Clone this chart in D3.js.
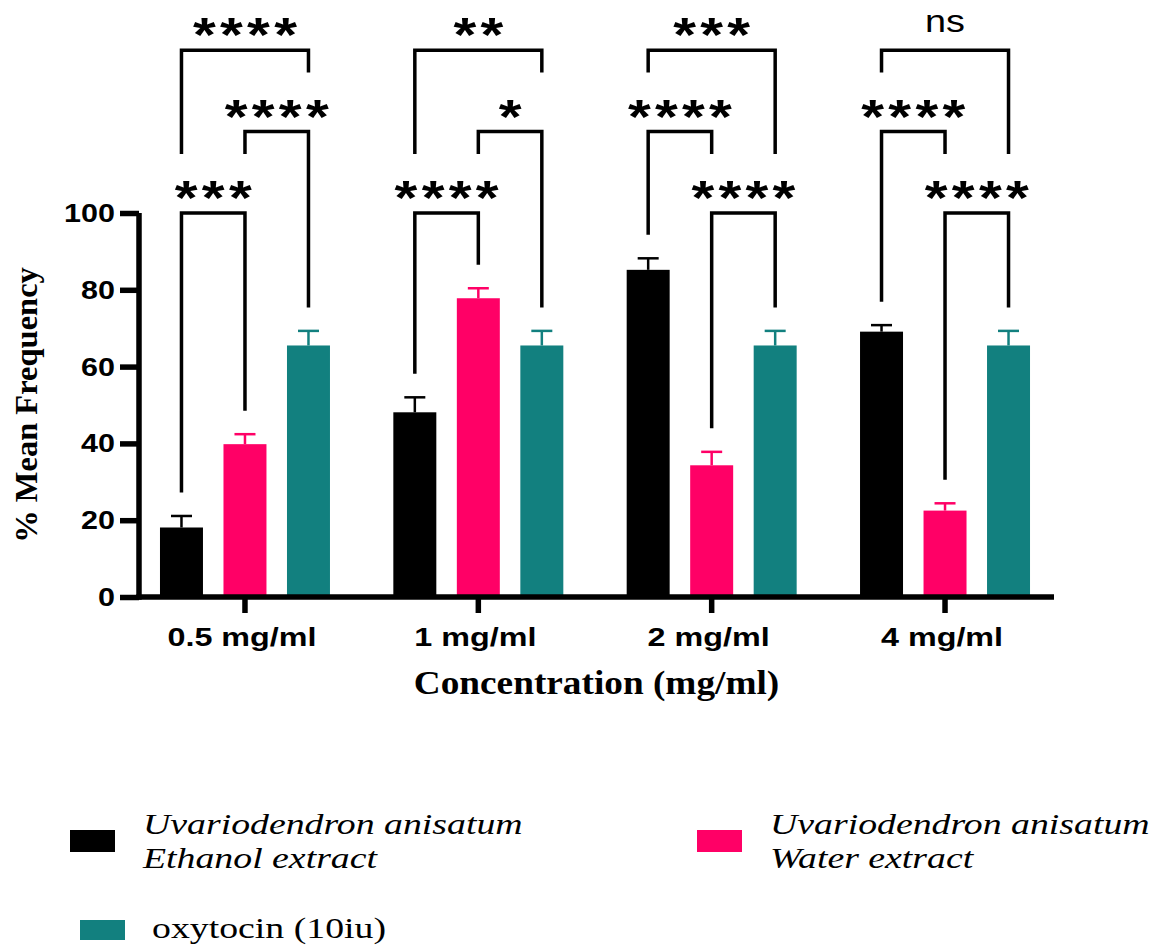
<!DOCTYPE html>
<html>
<head>
<meta charset="utf-8">
<script src="https://cdn.jsdelivr.net/npm/d3@7"></script>
<style>
  body { margin: 0; background: #fff; }
</style>
</head>
<body>
<div id="chart"></div>
<script>
// ---- data ----
const concentrations = ["0.5 mg/ml", "1 mg/ml", "2 mg/ml", "4 mg/ml"];
const seriesKeys = ["ethanol", "water", "oxytocin"];
const ethanolMean = [18.1, 48.1, 85.2, 69.1];
const ethanolSem  = [3.0, 3.9, 3.0, 1.7];
const waterMean   = [39.8, 77.8, 34.3, 22.5];
const waterSem    = [2.6, 2.6, 3.5, 1.9];
const oxytocinMean = [65.5, 65.5, 65.5, 65.5];
const oxytocinSem  = [3.8, 3.8, 3.8, 3.8];
const yTicks = [0, 20, 40, 60, 80, 100];

// [concentration index, series a, series b, stack level, label]
const comparisons = [
  [0, "ethanol", "water", 0, "***"],
  [0, "water", "oxytocin", 1, "****"],
  [0, "ethanol", "oxytocin", 2, "****"],
  [1, "ethanol", "water", 0, "****"],
  [1, "water", "oxytocin", 1, "*"],
  [1, "ethanol", "oxytocin", 2, "**"],
  [2, "water", "oxytocin", 0, "****"],
  [2, "ethanol", "water", 1, "****"],
  [2, "ethanol", "oxytocin", 2, "***"],
  [3, "water", "oxytocin", 0, "****"],
  [3, "ethanol", "water", 1, "****"],
  [3, "ethanol", "oxytocin", 2, "ns"]
];

const legendLabels = [
  ["Uvariodendron anisatum", "Ethanol extract"],
  ["Uvariodendron anisatum", "Water extract"],
  ["oxytocin (10iu)"]
];

const colors = { ethanol: "#000000", water: "#FF0066", oxytocin: "#12807F" };

// table built from the arrays
const means = { ethanol: ethanolMean, water: waterMean, oxytocin: oxytocinMean };
const sems  = { ethanol: ethanolSem,  water: waterSem,  oxytocin: oxytocinSem };
const bars = [];
concentrations.forEach((c, i) => {
  seriesKeys.forEach(k => bars.push({ conc: c, key: k, mean: means[k][i], sem: sems[k][i] }));
});

// ---- layout ----
const W = 1164, H = 947;
const axisX = 139, axisRight = 1054;
const STRETCH = 1.22; // the figure's text is a bit wide

const svg = d3.select("#chart").append("svg")
  .attr("width", W).attr("height", H)
  .style("font-family", "'Liberation Sans', Arial, sans-serif");

const y = d3.scaleLinear().domain([0, 100]).range([597, 213]);

const x0 = d3.scaleBand().domain(concentrations).range([128.3, 1061.7]);
const x1 = d3.scaleBand().domain(seriesKeys)
  .range([x0.bandwidth() / 2 - 95.25, x0.bandwidth() / 2 + 95.25])
  .paddingInner(0.323).paddingOuter(0.1615);

const barCenter = (ci, k) => x0(concentrations[ci]) + x1(k) + x1.bandwidth() / 2;

// bars
svg.append("g").selectAll("rect")
  .data(bars)
  .join("rect")
  .attr("x", d => x0(d.conc) + x1(d.key))
  .attr("width", x1.bandwidth())
  .attr("y", d => y(d.mean))
  .attr("height", d => y(0) - y(d.mean))
  .attr("fill", d => colors[d.key]);

// error bars (upper only)
const capHalf = 10.5;
const err = svg.append("g").selectAll("g")
  .data(bars)
  .join("g")
  .attr("stroke", d => colors[d.key])
  .attr("stroke-width", 2.5);
err.append("line")
  .attr("x1", d => x0(d.conc) + x1(d.key) + x1.bandwidth() / 2)
  .attr("x2", d => x0(d.conc) + x1(d.key) + x1.bandwidth() / 2)
  .attr("y1", d => y(d.mean))
  .attr("y2", d => y(d.mean + d.sem));
err.append("line")
  .attr("x1", d => x0(d.conc) + x1(d.key) + x1.bandwidth() / 2 - capHalf)
  .attr("x2", d => x0(d.conc) + x1(d.key) + x1.bandwidth() / 2 + capHalf)
  .attr("y1", d => y(d.mean + d.sem))
  .attr("y2", d => y(d.mean + d.sem));

// y axis
const yAxis = svg.append("g")
  .attr("transform", `translate(${axisX},0)`)
  .call(d3.axisLeft(y).tickValues(yTicks).tickSize(19).tickSizeOuter(0).tickFormat(""));
yAxis.select(".domain").attr("stroke-width", 5.5).attr("d", `M0,${y(100)}V${y(0) + 2.75}`);
yAxis.selectAll(".tick line").attr("stroke-width", 5.5);

svg.append("g").selectAll("text")
  .data(yTicks)
  .join("text")
  .attr("transform", d => `translate(115,${y(d) + 9}) scale(${STRETCH},1)`)
  .attr("text-anchor", "end")
  .attr("font-size", 25)
  .attr("font-weight", "bold")
  .text(d => d);

// x axis
const xAxis = svg.append("g")
  .attr("transform", `translate(0,${y(0)})`)
  .call(d3.axisBottom(x0).tickSize(16).tickSizeOuter(0).tickFormat(""));
xAxis.select(".domain").attr("stroke-width", 5.5).attr("d", `M${axisX - 2.75},0H${axisRight}`);
xAxis.selectAll(".tick line").attr("stroke-width", 5.5);

svg.append("g").selectAll("text")
  .data(concentrations)
  .join("text")
  .attr("transform", d => `translate(${x0(d) + x0.bandwidth() / 2 - 3},646) scale(${STRETCH},1)`)
  .attr("text-anchor", "middle")
  .attr("font-size", 26.5)
  .attr("font-weight", "bold")
  .text(d => d);

// axis titles
svg.append("text")
  .attr("transform", `translate(${(axisX + axisRight) / 2},694) scale(1.13,1)`)
  .attr("text-anchor", "middle")
  .attr("font-family", "'Liberation Serif', 'Times New Roman', serif")
  .attr("font-weight", "bold")
  .attr("font-size", 33)
  .text("Concentration (mg/ml)");

svg.append("text")
  .attr("transform", `translate(37,${(y(0) + y(100)) / 2}) rotate(-90)`)
  .attr("text-anchor", "middle")
  .attr("font-family", "'Liberation Serif', 'Times New Roman', serif")
  .attr("font-weight", "bold")
  .attr("font-size", 32.5)
  .text("% Mean Frequency");

// significance brackets
const levelY = lvl => y(100 + 21.2 * lvl);
const legBottom = (c, k) => {
  const lower = comparisons.filter(o => o[0] === c[0] && o[3] < c[3] && (o[1] === k || o[2] === k));
  if (lower.length) return levelY(d3.max(lower, o => o[3])) - 59;
  return y(means[k][c[0]] + sems[k][c[0]]) - 23.5;
};

const br = svg.append("g").selectAll("g")
  .data(comparisons)
  .join("g");
br.append("path")
  .attr("fill", "none")
  .attr("stroke", "#000")
  .attr("stroke-width", 3.5)
  .attr("d", c => {
    const xa = barCenter(c[0], c[1]), xb = barCenter(c[0], c[2]), yl = levelY(c[3]);
    return `M${xa},${legBottom(c, c[1])}V${yl}H${xb}V${legBottom(c, c[2])}`;
  });
const starSpacing = 3.5;
br.append("text")
  .attr("transform", c => {
    const xm = (barCenter(c[0], c[1]) + barCenter(c[0], c[2])) / 2;
    const isNs = c[4] === "ns";
    return `translate(${xm},${levelY(c[3]) + (isNs ? -18 : 1)}) scale(${STRETCH},1)`;
  })
  .attr("dx", c => c[4] === "ns" ? 0 : starSpacing / 2)
  .attr("text-anchor", "middle")
  .attr("letter-spacing", c => c[4] === "ns" ? 0 : starSpacing)
  .attr("font-weight", c => c[4] === "ns" ? "normal" : "bold")
  .attr("font-size", c => c[4] === "ns" ? 31 : 48)
  .text(c => c[4]);

// legend
const legendPos = [
  { sx: 70, sy: 830, sh: 22, tx: 143, ty: 834, italic: true },
  { sx: 697, sy: 830, sh: 22, tx: 770, ty: 834, italic: true },
  { sx: 80, sy: 920, sh: 20, tx: 152, ty: 938, italic: false }
];
const leg = svg.append("g").selectAll("g")
  .data(seriesKeys)
  .join("g");
leg.append("rect")
  .attr("x", (d, i) => legendPos[i].sx)
  .attr("y", (d, i) => legendPos[i].sy)
  .attr("width", 45)
  .attr("height", (d, i) => legendPos[i].sh)
  .attr("fill", d => colors[d]);
leg.each(function(d, i) {
  const p = legendPos[i];
  legendLabels[i].forEach((line, j) => {
    d3.select(this).append("text")
      .attr("transform", `translate(${p.tx},${p.ty + j * 34}) scale(1.26,1)`)
      .attr("font-family", "'Liberation Serif', 'Times New Roman', serif")
      .attr("font-style", p.italic ? "italic" : "normal")
      .attr("font-size", 30)
      .text(line);
  });
});
</script>
</body>
</html>
